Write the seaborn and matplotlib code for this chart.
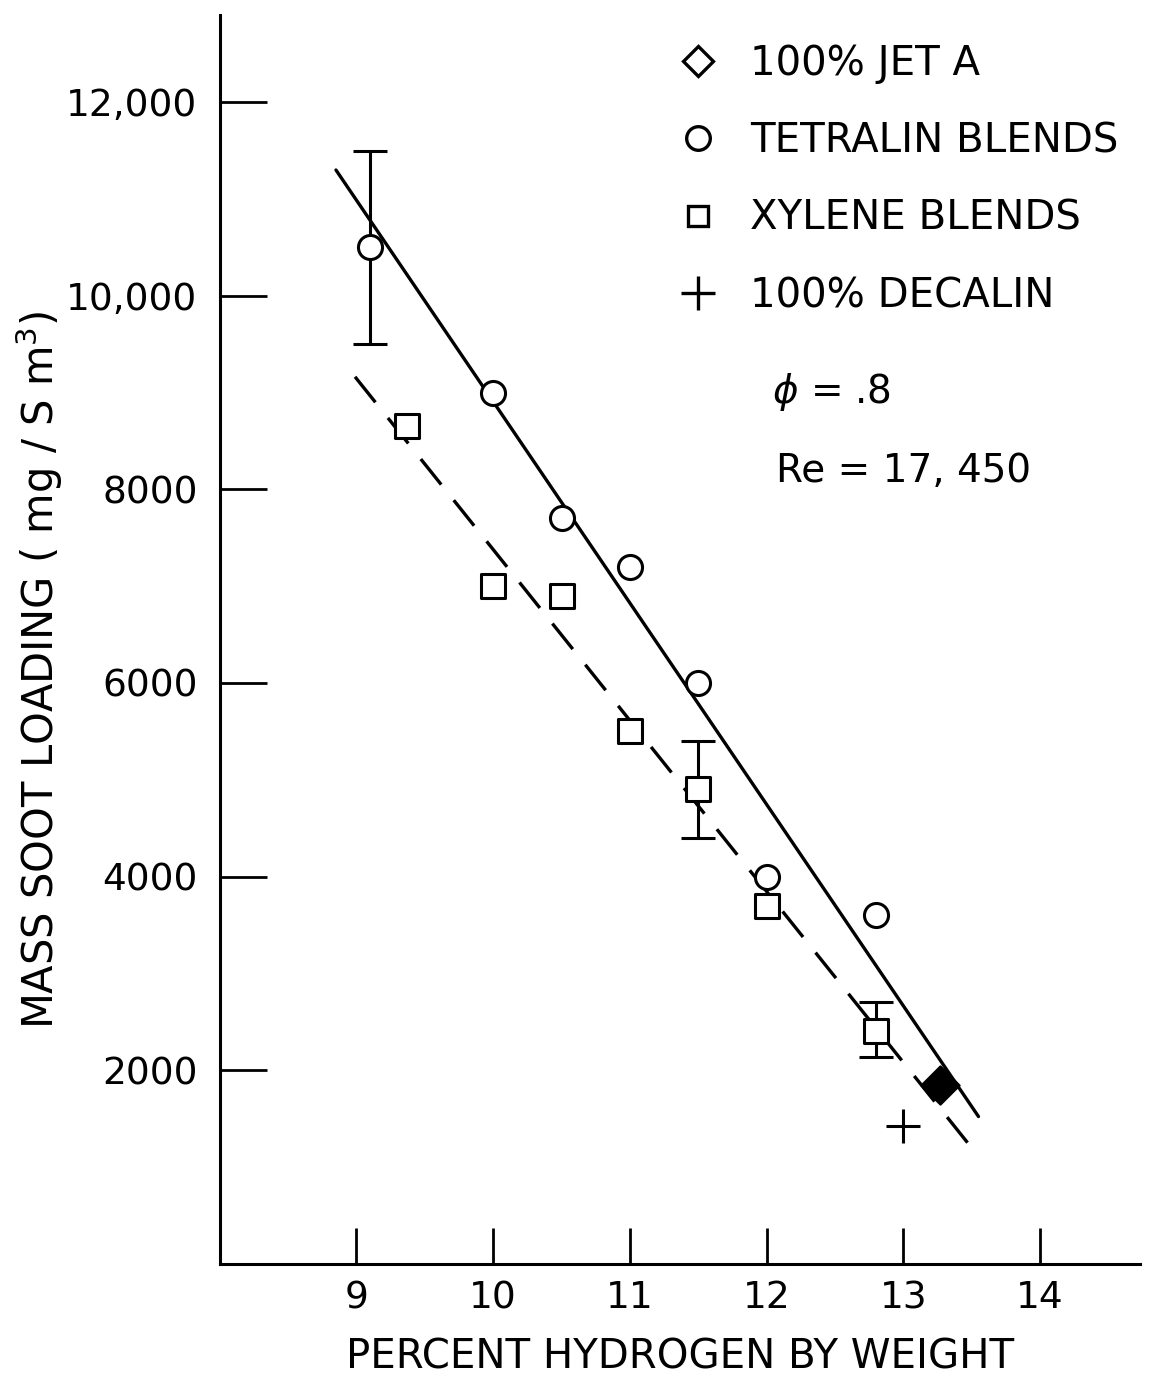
import matplotlib
matplotlib.use("Agg")
import matplotlib.pyplot as plt
from matplotlib.lines import Line2D
import seaborn as sns
import pandas as pd
import numpy as np

# ---------------- data ----------------
tetralin_h = [9.1, 10.0, 10.5, 11.0, 11.5, 12.0, 12.8]
tetralin_soot = [10500, 9000, 7700, 7200, 6000, 4000, 3600]

xylene_h = [9.37, 10.0, 10.5, 11.0, 11.5, 12.0, 12.8]
xylene_soot = [8650, 7000, 6900, 5500, 4900, 3700, 2400]

jeta_h = [13.27]
jeta_soot = [1850]

decalin_h = [13.0]
decalin_soot = [1420]

# error bars (x, y, half-range)
tet_err_h = [9.1]
tet_err_y = [10500]
tet_err = [1000]
xyl_err_h = [11.5, 12.8]
xyl_err_y = [4900, 2420]
xyl_err = [500, 280]

# fitted lines (end points)
tet_fit_h = [8.85, 13.55]
tet_fit_y = [11300, 1520]
xyl_fit_h = [13.47, 8.98]
xyl_fit_y = [1250, 9180]

x_ticks = [9, 10, 11, 12, 13, 14]
x_ticklabels = ["9", "10", "11", "12", "13", "14"]
y_ticks = [2000, 4000, 6000, 8000, 10000, 12000]
y_ticklabels = ["2000", "4000", "6000", "8000", "10,000", "12,000"]

legend_labels = ["100% JET A", "TETRALIN BLENDS", "XYLENE BLENDS", "100% DECALIN"]

# ---------------- plot ----------------
sns.set_theme(style="ticks")
plt.rcParams['font.family'] = ['DejaVu Sans']
plt.rcParams['text.color'] = 'black'
plt.rcParams['axes.labelcolor'] = 'black'

fig = plt.figure(figsize=(11.69, 13.78), dpi=100)
ax = fig.add_axes([0.188, 0.083, 0.787, 0.906])

lw = 2.4
# fit lines
sns.lineplot(x=tet_fit_h, y=tet_fit_y, ax=ax, color="black", linewidth=lw, zorder=2)
sns.lineplot(x=xyl_fit_h, y=xyl_fit_y, ax=ax, color="black", linewidth=lw, zorder=2,
             sort=False)
ax.lines[-1].set_dashes([9.8, 6])

# error bars
ax.errorbar(tet_err_h, tet_err_y, yerr=tet_err, fmt="none", ecolor="black",
            elinewidth=2.2, capsize=12, capthick=2.2, zorder=3)
ax.errorbar(xyl_err_h, xyl_err_y, yerr=xyl_err, fmt="none", ecolor="black",
            elinewidth=2.2, capsize=12, capthick=2.2, zorder=3)

# markers
sns.scatterplot(x=tetralin_h, y=tetralin_soot, ax=ax, marker="o", s=300,
                facecolor="white", edgecolor="black", linewidth=2.2, zorder=4)
sns.scatterplot(x=xylene_h, y=xylene_soot, ax=ax, marker="s", s=280,
                facecolor="white", edgecolor="black", linewidth=2.2, zorder=4)
sns.scatterplot(x=jeta_h, y=jeta_soot, ax=ax, marker="D", s=380,
                facecolor="black", edgecolor="black", linewidth=1.5, zorder=4)
sns.scatterplot(x=decalin_h, y=decalin_soot, ax=ax, marker="+", s=600,
                color="black", linewidth=2.2, zorder=4)

ax.set_xlim(8.0, 14.73)
ax.set_ylim(0, 12900)
ax.set_xticks(x_ticks)
ax.set_xticklabels(x_ticklabels)
ax.set_yticks(y_ticks)
ax.set_yticklabels(y_ticklabels)
ax.tick_params(axis="both", direction="in", length=26, width=2, labelsize=27,
               colors="black", pad=12)
ax.tick_params(axis="y", length=34, pad=16)
sns.despine(ax=ax)
for sp in ["left", "bottom"]:
    ax.spines[sp].set_linewidth(2.2)
    ax.spines[sp].set_color("black")

ax.set_xlabel("PERCENT HYDROGEN BY WEIGHT", fontsize=29, labelpad=15)
ax.set_ylabel("MASS SOOT LOADING ( mg / S m$^3$)", fontsize=30)
ax.yaxis.set_label_coords(-0.168, 0.476)

# legend
handles = [
    Line2D([], [], marker="D", linestyle="none", markersize=15, markerfacecolor="white",
           markeredgecolor="black", markeredgewidth=2.4),
    Line2D([], [], marker="o", linestyle="none", markersize=17, markerfacecolor="white",
           markeredgecolor="black", markeredgewidth=2.4),
    Line2D([], [], marker="s", linestyle="none", markersize=15, markerfacecolor="white",
           markeredgecolor="black", markeredgewidth=2.4),
    Line2D([], [], marker="+", linestyle="none", markersize=24,
           markeredgecolor="black", markeredgewidth=2.4),
]
leg = ax.legend(handles, legend_labels, loc="upper left", bbox_to_anchor=(0.48, 0.99),
                frameon=False, fontsize=29, handlelength=1.0, handletextpad=0.8,
                labelspacing=0.93, borderaxespad=0.0)

ax.text(0.6, 0.698, r"$\phi$ = .8", transform=ax.transAxes, fontsize=28, ha="left", va="center")
ax.text(0.605, 0.635, "Re = 17, 450", transform=ax.transAxes, fontsize=28, ha="left", va="center")

fig.savefig("out.png", dpi=100, facecolor="white")
